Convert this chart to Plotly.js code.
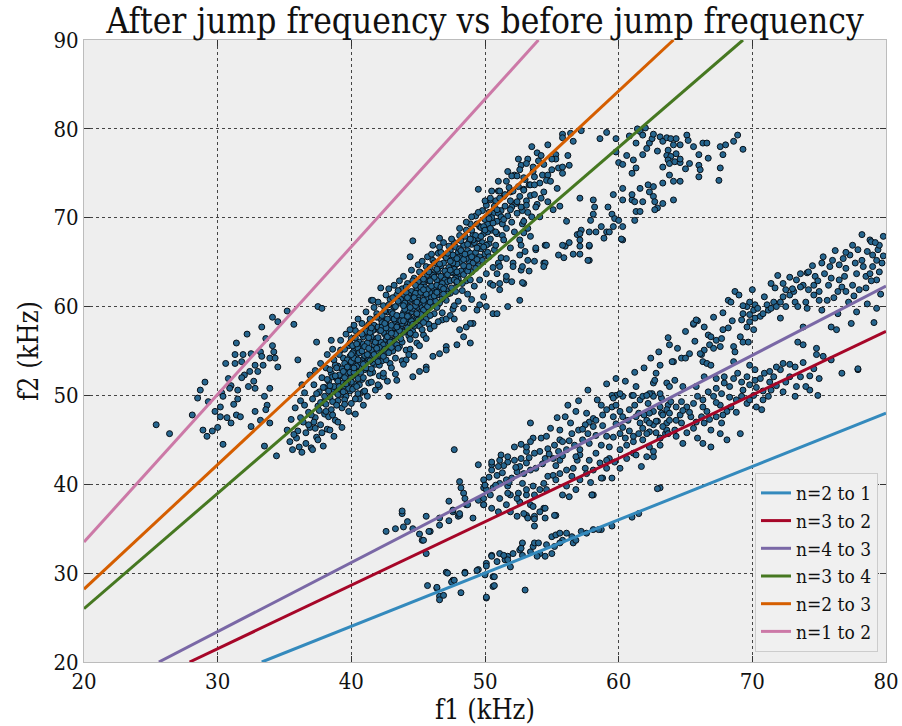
<!DOCTYPE html>
<html><head><meta charset="utf-8">
<script src="https://cdn.plot.ly/plotly-3.0.1.min.js"></script>
<style>html,body{margin:0;padding:0;background:#fff}#chart{width:902px;height:726px}</style>
</head><body><div id="chart"></div><script>
// ---- data: [f1, f2] pairs (kHz) ----
const leftPts = [[25.4,46.7],[26.4,45.7],[28.1,47.8],[29.05,51.5],[28.7,50.6],[28.5,49.7],[29.3,49.3],[30.3,50.3],[30.2,48.7],[30.2,47.6],[28.9,46.1],[29.2,45.4],[29.6,46.0],[30.0,46.4],[30.4,44.5],[30.7,47.5],[31.0,46.9],[31.4,47.8],[31.7,47.6],[31.5,49.6],[30.6,53.6],[31.3,54.6],[31.3,53.6],[31.4,55.9],[31.9,54.6],[31.8,53.8],[32.2,56.9],[32.5,54.7],[33.3,57.7],[33.6,56.4],[34.1,58.8],[34.5,58.3],[35.2,59.5],[35.7,58.0],[34.1,55.6],[34.2,54.9],[33.2,54.9],[33.3,54.4],[32.8,53.4],[32.4,52.7],[32.0,52.3],[31.8,52.0],[31.0,51.1],[30.9,50.8],[31.5,50.6],[32.3,51.0],[32.8,50.8],[33.0,52.7],[32.7,51.6],[33.4,53.4],[33.9,54.2],[34.3,54.2],[34.5,53.2],[33.9,50.8],[33.5,49.9],[33.7,48.9],[33.6,48.4],[32.8,48.2],[33.9,46.9],[33.2,47.2],[32.5,46.5],[33.5,44.3],[34.4,43.2],[30.4,49.9],[37.5,60.0],[37.8,59.8],[36.0,54.0],[30.8,51.9],[31.2,49.0],[29.8,48.2]];

const mainCorePts = [[35.2,46.1],[35.5,47.3],[35.6,43.9],[35.8,48.6],[35.9,45.2],[36.1,44.2],[36.2,49.4],[36.3,43.6],[36.4,47.0],[36.5,50.3],[36.6,45.8],[36.8,48.1],[36.9,46.4],[37.0,44.1],[37.1,49.6],[37.2,51.2],[37.3,47.5],[37.4,45.3],[37.5,48.8],[37.6,50.4],[37.7,46.7],[37.8,52.0],[37.9,49.2],[38.0,47.9],[38.0,50.9],[38.1,53.1],[38.2,46.2],[38.3,51.6],[38.4,49.8],[38.5,48.4],[38.5,52.5],[38.6,50.7],[38.7,54.0],[38.8,47.2],[38.9,51.9],[39.0,49.4],[39.0,53.3],[39.1,50.8],[39.2,55.1],[39.3,52.2],[39.3,48.6],[39.4,54.2],[39.5,51.1],[39.6,53.7],[39.6,49.9],[39.7,52.8],[39.8,55.6],[39.9,50.5],[39.9,54.4],[40.0,52.0],[40.0,56.4],[40.1,53.6],[40.2,51.3],[40.2,55.0],[40.3,57.3],[40.4,52.7],[40.4,54.6],[40.5,50.2],[40.6,56.0],[40.6,53.2],[40.7,55.4],[40.8,58.1],[40.8,51.8],[40.9,54.1],[41.0,56.8],[41.0,52.9],[41.1,55.7],[41.2,53.8],[41.2,57.6],[41.3,51.4],[41.4,55.0],[41.4,58.6],[41.5,54.3],[41.6,56.3],[41.6,52.6],[41.7,57.9],[41.8,55.2],[41.8,53.5],[41.9,59.2],[42.0,56.1],[42.0,54.4],[42.1,57.3],[42.1,52.2],[42.2,58.6],[42.3,55.6],[42.3,53.9],[42.4,60.1],[42.5,56.9],[42.5,54.8],[42.6,58.0],[42.7,55.3],[42.7,59.4],[42.8,57.2],[42.9,53.6],[42.9,60.8],[43.0,56.2],[43.0,58.7],[43.1,55.0],[43.2,59.9],[43.2,57.6],[43.3,54.2],[43.4,61.3],[43.4,56.6],[43.5,58.9],[43.6,55.5],[43.6,60.4],[43.7,57.8],[43.8,62.0],[43.8,56.0],[43.9,59.3],[44.0,57.3],[44.0,61.0],[44.1,55.1],[44.1,58.6],[44.2,62.6],[44.3,60.0],[44.3,56.7],[44.4,58.1],[44.5,61.7],[44.5,59.4],[44.6,57.2],[44.7,63.2],[44.7,60.6],[44.8,58.8],[44.9,55.9],[44.9,62.1],[45.0,59.9],[45.0,61.2],[45.1,57.8],[45.2,63.8],[45.2,60.3],[45.3,58.6],[45.4,62.5],[45.4,56.8],[45.5,61.1],[45.6,59.4],[45.6,64.5],[45.7,60.8],[45.8,62.9],[45.8,58.0],[45.9,61.6],[46.0,63.6],[46.0,60.1],[46.1,65.2],[46.2,62.0],[46.2,59.2],[46.3,63.9],[46.4,61.3],[46.5,66.0],[46.5,62.7],[46.6,60.4],[46.7,64.6],[46.8,61.9],[46.8,58.5],[46.9,63.3],[47.0,65.7],[47.0,62.4],[47.1,60.7],[47.2,64.1],[47.3,66.8],[47.3,63.0],[47.4,61.5],[47.5,65.3],[47.6,63.8],[47.6,59.7],[47.7,67.2],[47.8,64.7],[47.9,62.6],[48.0,66.1],[48.0,63.5],[48.1,68.0],[48.2,65.0],[48.3,61.8],[48.4,66.9],[48.5,64.2],[48.6,68.6],[48.6,62.9],[48.7,66.3],[48.8,65.1],[48.9,69.3],[49.0,67.0],[49.0,63.9],[49.1,68.1],[49.2,65.8],[49.3,70.2],[49.4,67.6],[49.5,64.6],[49.6,69.0],[49.7,66.5],[49.8,70.8],[49.9,68.2],[50.0,65.9],[50.1,71.4],[50.2,69.3],[50.3,67.1],[50.4,72.0],[50.5,68.6],[50.6,70.5],[50.7,66.4],[50.8,71.9],[50.9,69.6],[51.0,73.0],[51.2,70.8],[51.3,68.0],[51.4,72.4],[51.6,74.1],[51.7,70.2],[51.9,72.9],[52.0,69.5],[52.2,74.8],[52.3,71.6],[52.5,73.5],[52.7,75.9],[52.8,70.8],[53.0,74.3],[53.2,76.6],[53.4,72.5],[53.6,75.2],[53.9,77.3],[54.1,73.9],[54.4,76.0],[54.7,78.2],[55.0,75.4],[55.3,77.1],[55.8,79.4],[56.2,77.0],[56.6,78.6],[57.2,79.8],
[37.2,47.0],[37.4,50.2],[37.6,48.3],[37.8,45.8],[37.9,50.9],[38.1,49.0],[38.2,51.8],[38.3,47.6],[38.4,52.9],[38.6,49.3],[38.7,51.0],[38.8,53.4],[38.9,48.9],[39.0,51.6],[39.1,54.6],[39.2,50.1],[39.3,53.0],[39.4,51.4],[39.5,55.2],[39.5,49.5],[39.6,52.4],[39.7,54.0],[39.8,50.8],[39.8,53.1],[39.9,55.9],[40.0,51.5],[40.0,53.8],[40.1,55.6],[40.1,50.7],[40.2,54.2],[40.3,52.3],[40.3,56.5],[40.4,53.3],[40.5,55.3],[40.5,51.9],[40.6,54.8],[40.7,52.6],[40.7,57.0],[40.8,53.9],[40.9,55.8],[40.9,52.0],[41.0,54.5],[41.1,57.2],[41.1,53.1],[41.2,55.9],[41.3,54.0],[41.3,58.0],[41.4,52.5],[41.5,56.6],[41.5,55.1],[41.6,53.7],[41.7,57.4],[41.7,55.7],[41.8,54.1],[41.9,56.4],[41.9,58.8],[42.0,55.0],[42.0,57.7],[42.1,53.4],[42.2,56.0],[42.2,54.6],[42.3,58.2],[42.4,55.7],[42.4,57.1],[42.5,59.5],[42.6,56.3],[42.6,54.0],[42.7,58.6],[42.8,55.8],[42.8,60.2],[42.9,57.5],[43.0,55.4],[43.0,59.4],[43.1,57.0],[43.1,61.0],[43.2,56.1],[43.3,58.3],[43.3,60.0],[43.4,55.7],[43.5,57.9],[43.5,61.8],[43.6,58.5],[43.7,56.4],[43.7,60.8],[43.8,59.0],[43.9,57.1],[43.9,61.4],[44.0,58.2],[44.0,60.4],[44.1,62.2],[44.2,57.6],[44.2,59.6],[44.3,61.3],[44.4,56.3],[44.4,60.7],[44.5,58.4],[44.6,62.9],[44.6,59.8],[44.7,57.8],[44.8,61.5],[44.8,60.1],[44.9,58.6],[45.0,62.8],[45.0,60.7],[45.1,59.3],[45.1,63.9],[45.2,61.6],[45.3,59.9],[45.3,57.4],[45.4,63.1],[45.5,60.3],[45.5,62.2],[45.6,58.6],[45.7,63.6],[45.7,61.9],[45.8,60.4],[45.9,64.4],[45.9,59.0],[46.0,62.3],[46.1,60.8],[46.1,63.5],[46.2,64.9],[46.3,61.6],[46.4,59.9],[46.4,63.0],[46.5,64.0],[46.6,61.9],[46.7,63.4],[46.7,66.1],[46.8,60.9],[46.9,64.9],[47.0,63.0],[47.1,61.8],[47.1,65.5],[47.2,62.8],[47.3,64.4],[47.4,66.3],[47.5,62.1],[47.5,63.9],[47.6,65.8],[47.7,64.2],[47.8,61.7],[47.8,66.7],[47.9,64.8],[48.0,63.1],[48.1,65.6],[48.2,67.4],[48.2,64.0],[48.3,66.0],[48.4,63.6],[48.5,67.9],[48.6,65.4],[48.7,64.0],[48.8,67.3],[48.9,66.0],[49.0,68.6],[49.1,64.9],[49.2,67.2],[49.3,66.1],[49.4,69.3],[49.5,67.7],[49.6,65.6],[49.7,68.9],[49.8,67.2],[50.0,69.8],[50.1,66.9],[50.2,68.4],[50.3,70.6],[50.4,67.6],[50.6,69.4],[50.7,71.3],[50.9,68.2],[51.0,70.5],[51.1,72.2],[51.3,69.3],[51.5,71.3],[51.6,68.8],[51.8,73.4],[52.0,71.2],[52.1,73.0],[52.4,70.5],[52.6,72.4],[52.9,74.5],[53.1,71.9],[53.3,73.7],[53.7,74.6],[54.0,76.4],[54.3,74.8],
[38.0,49.9],[38.3,50.5],[38.6,52.1],[38.9,50.3],[39.1,52.3],[39.4,50.4],[39.5,53.6],[39.7,51.5],[39.9,52.6],[40.1,54.8],[40.2,52.6],[40.4,55.8],[40.6,51.2],[40.7,53.7],[40.9,56.6],[41.0,53.6],[41.2,54.6],[41.3,56.5],[41.5,53.0],[41.6,57.3],[41.8,56.0],[42.0,53.8],[42.1,55.4],[42.3,57.7],[42.5,55.2],[42.6,57.6],[42.8,54.8],[43.0,57.9],[43.1,59.2],[43.3,56.9],[43.5,60.6],[43.6,57.3],[43.8,58.1],[44.0,59.7],[44.1,61.6],[44.3,58.9],[44.5,60.9],[44.6,58.0],[44.8,62.4],[45.0,58.5],[45.2,62.2],[45.4,59.6],[45.6,61.4],[45.8,63.9],[46.0,61.0],[46.2,63.3],[46.4,62.4],[46.6,64.8],[46.8,62.6],[47.0,64.0],[47.2,66.0],[47.4,62.9],[47.6,64.9],[47.9,63.9],[48.1,66.5],[48.4,65.3],[48.7,67.0],[49.0,65.6],[49.3,68.0],[49.6,66.8],[49.9,69.0],[50.2,66.1],[50.5,70.0],[50.8,68.4],[51.2,70.1],[51.5,72.6],[51.9,70.9],[37.0,47.8],[37.3,46.3],[37.7,49.2],[36.8,46.7],[36.5,48.9],[36.2,47.5],[36.0,46.0],[35.7,45.6],[35.4,44.8],
[36.3,51.2],[36.6,44.6],[36.9,52.3],[37.1,43.9],[37.3,52.8],[37.5,45.0],[37.7,53.6],[37.9,44.3],[38.1,48.2],[38.2,54.6],[38.4,46.1],[38.6,55.2],[38.7,45.4],[38.9,53.1],[39.0,47.0],[39.2,56.2],[39.3,46.4],[39.5,52.0],[39.6,56.9],[39.8,48.2],[39.9,57.4],[40.0,49.1],[40.2,57.9],[40.3,47.9],[40.5,58.6],[40.6,49.6],[40.8,56.9],[40.9,50.4],[41.1,59.4],[41.2,49.9],[41.4,57.1],[41.5,51.5],[41.7,59.9],[41.8,50.6],[42.0,60.5],[42.1,51.0],[42.3,59.0],[42.4,52.1],[42.6,61.3],[42.7,51.6],[42.9,56.2],[43.0,53.1],[43.2,62.4],[43.3,52.4],[43.5,55.3],[43.6,62.9],[43.8,53.9],[43.9,63.4],[44.1,54.0],[44.2,61.0],[44.4,55.2],[44.5,64.1],[44.7,54.4],[44.8,56.8],[45.0,64.7],[45.1,55.6],[45.3,65.1],[45.4,58.2],[45.6,56.4],[45.7,65.6],[45.9,57.5],[46.0,65.9],[46.2,57.8],[46.3,60.6],[46.5,58.3],[46.6,66.7],[46.8,59.3],[46.9,67.2],[47.1,58.6],[47.2,61.4],[47.4,59.0],[47.5,67.6],[47.7,60.1],[47.8,63.2],[48.0,60.6],[48.1,68.8],[48.3,62.6],[48.4,59.8],[48.6,69.5],[48.7,61.4],[48.9,63.0],[49.0,70.1],[49.2,62.3],[49.3,64.3],[49.5,70.6],[49.6,63.0],[49.8,65.2],[50.0,71.9],[50.1,63.7],[50.3,65.6],[50.5,73.0],[50.6,64.4],[50.8,66.9],[51.0,74.1],[51.2,65.5],[51.4,67.5],[51.7,75.2],[51.9,66.6],[52.2,68.4],[52.5,76.6],[52.8,69.3],[53.2,70.6],[53.5,78.0],[53.9,71.5],[54.4,72.9],
[38.4,51.1],[38.8,52.2],[39.1,51.0],[39.4,52.7],[39.7,53.2],[40.0,54.6],[40.2,53.1],[40.5,54.0],[40.8,55.0],[41.0,55.5],[41.3,55.3],[41.5,57.6],[41.7,54.6],[42.0,56.5],[42.2,57.3],[42.5,58.1],[42.7,56.6],[43.0,57.0],[43.2,58.6],[43.4,59.0],[43.7,58.4],[43.9,60.1],[44.2,58.9],[44.4,59.9],[44.7,61.0],[44.9,60.5],[45.2,59.1],[45.4,61.9],[45.7,60.0],[45.9,62.9],[46.2,61.2],[46.4,64.2],[46.7,62.2],[46.9,62.0],[47.2,63.6],[47.4,65.1],[47.7,63.0],[47.9,65.4],[48.2,66.3],[48.5,65.9],[48.8,64.5],[49.1,67.5],[49.4,66.6],[49.7,67.9],[50.0,68.6],[50.3,69.9],[39.0,50.1],[39.6,51.3],[40.4,51.0],[40.9,53.5],[41.4,53.9],[41.9,55.3],[42.4,54.4],[42.9,56.0],[43.4,57.7],[43.9,58.4],[44.4,57.0],[44.9,59.2],[45.4,60.7],[45.9,60.5],[46.4,61.6],[46.9,61.4],[47.4,64.1],[47.9,62.8],[48.4,64.6],[48.9,67.6],[49.4,65.3],[49.9,66.7],[50.4,68.8],[50.9,70.9],[51.4,69.8],[51.9,71.9],[52.4,71.8],[52.9,73.2]];

const mainEdgePts = [[44.6,67.4],[46.1,66.9],[44.4,65.6],[42.2,62.1],[42.8,62.0],[41.5,60.7],[37.4,56.0],[38.5,56.2],[49.5,73.2],[50.4,72.2],[46.6,67.7],[41.6,60.7],[49.6,60.2],[50.1,60.0],[50.6,59.2],[49.1,58.1],[48.6,57.7],[48.9,55.9],[48.4,56.6],[47.9,55.7],[47.1,55.5],[46.6,54.7],[46.1,54.4],[45.6,53.2],[45.1,52.7],[42.4,52.5],[42.8,49.9],[43.4,51.7],[44.6,52.1],[45.6,52.9],[47.1,55.1],[48.1,57.4],[48.9,58.1],[49.4,59.6],[50.9,59.2],[51.7,60.0],[52.6,60.7],[52.9,62.6],[51.6,63.0],[51.1,61.9],[49.9,61.1],[50.4,62.6],[50.9,63.7],[51.0,64.9],[52.1,64.9],[52.7,64.1],[53.2,65.2],[53.8,66.4],[54.4,64.9],[54.5,66.9],[53.7,65.1],[52.8,62.7],[51.6,65.4],[51.1,64.5],[51.6,63.4],[50.6,62.4],[51.1,62.6],[52.0,62.8],[53.3,64.0],[52.8,64.5],[52.1,64.5],[39.5,49.0],[40.3,49.6],[41.0,50.5],[38.6,47.8],[43.9,53.5],[44.3,54.6],[40.9,48.9],[42.0,51.2],[47.7,58.6],[49.0,60.8],
[55.8,79.0],[56.4,79.5],[55.3,76.6],[55.5,75.6],[55.8,75.7],[56.3,75.9],[55.8,75.0],[54.2,77.0],[53.1,76.1],[53.6,75.7],[52.6,75.4],[52.0,74.7],[52.4,74.7],[54.7,74.8],[54.6,74.2],[54.9,74.1],[53.4,73.7],[53.7,73.7],[52.9,73.1],[55.4,73.3],[51.1,73.0],[53.7,72.6],[54.2,72.2],[54.7,71.8],[53.8,71.2],[53.1,71.4],[52.7,71.2],[55.6,71.3],[55.1,70.9],[54.1,70.1],[53.5,70.1],[52.9,69.6],[53.2,68.8],[52.9,68.3],[53.4,67.9],[52.6,67.5],[52.7,66.9],[53.8,66.6],[54.6,66.9],[52.6,65.8],[53.0,66.2],[55.0,76.6]];

const tailPts = [[57.1,72.2],[58.1,72.0],[58.2,71.2],[58.1,70.4],[57.9,69.7],[59.2,71.2],[59.5,70.4],[59.7,69.9],[60.0,69.7],[59.6,72.6],[60.3,73.3],[60.3,72.0],[61.0,72.0],[61.2,71.8],[61.3,70.7],[61.6,70.7],[61.2,69.7],[61.8,71.8],[61.0,72.6],[61.6,73.3],[60.3,69.0],[60.3,67.5],[59.6,69.0],[59.1,68.4],[58.9,67.7],[58.7,69.0],[57.8,68.4],[57.2,68.6],[56.9,68.1],[57.1,67.5],[56.1,69.6],[57.1,66.8],[57.8,66.8],[57.8,65.2],[56.6,65.9],[56.0,66.8],[55.5,65.8],[55.8,66.9],[57.1,65.9],[57.7,65.2],[57.8,66.9],[57.1,68.2],[58.3,68.4],[59.3,68.4],[60.2,67.6],[54.5,64.9],[54.4,64.5],[55.9,65.5],[56.3,67.2]];

const topRightPts = [[58.6,78.9],[59.1,79.6],[59.8,78.9],[60.0,76.2],[60.3,76.0],[59.8,77.4],[61.1,76.5],[61.3,75.6],[61.0,75.0],[61.8,77.1],[62.1,77.8],[62.3,78.4],[62.5,78.9],[62.0,80.1],[61.6,79.7],[61.3,78.4],[61.8,79.3],[62.6,79.4],[63.1,79.1],[63.3,78.6],[63.6,79.0],[63.9,78.9],[64.1,78.2],[63.7,77.6],[63.6,77.0],[63.9,76.9],[63.7,76.5],[63.8,76.1],[64.3,77.2],[64.2,76.3],[64.6,76.2],[65.1,79.3],[65.2,78.7],[64.6,78.2],[64.6,76.6],[65.6,78.0],[66.0,77.1],[65.3,76.1],[66.0,75.9],[66.1,75.4],[66.0,74.6],[65.0,75.5],[64.6,74.1],[64.1,74.1],[63.8,74.8],[63.3,75.7],[63.3,73.9],[62.6,73.5],[62.2,73.7],[62.3,72.9],[62.6,72.4],[62.7,71.8],[62.9,71.1],[62.7,70.9],[63.3,71.6],[64.1,72.0],[66.3,78.4],[66.6,78.4],[66.7,76.7],[67.6,78.0],[68.0,78.2],[67.8,77.1],[67.6,75.6],[67.5,74.2],[68.6,78.6],[68.9,79.3],[69.3,77.7],[64.3,78.9],[60.8,79.2],[61.4,80.0],[62.9,77.5],[60.6,77.0]];

const lowerBandPts = [[43.8,36.7],[42.6,34.7],[43.3,35.0],[43.9,35.2],[44.6,35.0],[45.1,34.4],[45.6,36.4],[45.9,34.7],[45.3,33.7],[45.6,32.2],[46.6,35.4],[47.3,35.9],[46.6,36.2],[48.0,36.4],[47.7,43.9],[49.5,42.2],[48.1,40.3],[48.2,39.6],[48.4,39.0],[48.5,38.4],[48.6,37.7],[48.1,36.5],[49.1,36.2],[47.6,36.9],[45.8,34.7],[45.4,33.7],[48.7,37.7],[47.3,38.1],[47.6,37.1],[48.1,36.7],[49.5,38.2],[49.9,37.7],[43.8,37.0],[44.2,35.8],
[49.9,40.5],[49.9,39.6],[49.9,37.7],[50.5,37.3],[51.0,36.9],[51.6,37.7],[51.9,38.8],[51.7,39.8],[52.5,39.0],[52.6,38.0],[53.1,38.8],[53.4,37.7],[53.6,37.5],[53.1,36.5],[53.7,36.4],[53.7,35.3],[54.5,36.2],[54.4,37.3],[55.3,36.5],
[53.4,46.9],[53.6,45.2],[54.2,45.2],[54.6,45.4],[54.9,46.3],[54.7,44.0],[55.2,44.4],[55.6,45.0],[55.8,44.8],[55.5,43.7],[56.1,43.9],[55.6,42.7],[55.1,42.9],[54.5,42.9],[54.1,43.7],[53.7,43.5],[53.1,43.7],[52.7,42.9],[52.2,42.7],[51.7,42.5],[51.4,42.1],[51.0,42.0],[50.5,42.2],[50.5,41.6],[51.1,42.7],[52.6,42.0],[53.1,42.4],[53.4,41.6],[52.9,41.2],[52.4,41.4],[52.0,40.7],[51.6,40.5],[51.1,40.1],[50.6,39.6],[50.1,39.4],[50.0,39.9],[49.9,38.4],[50.4,38.8],[51.1,38.4],[51.7,39.0],[52.4,38.4],[53.1,39.4],[53.6,39.8],[53.7,38.8],[54.1,39.4],[54.4,40.1],[54.7,40.9],[55.1,41.0],[55.6,41.2],[55.3,40.5],[54.6,39.4],[54.5,37.3],[55.2,36.5],[53.7,36.1],[54.1,36.9],[53.2,36.2],[52.9,36.7],[52.4,36.4],[51.9,36.9],
[56.9,42.7],[57.1,43.3],[57.1,43.9],[56.7,44.4],[57.3,45.0],[57.7,45.7],[58.1,46.5],[57.8,47.0],[57.5,46.7],[57.0,46.1],[56.5,45.7],[56.4,46.9],[56.0,47.6],[55.6,46.1],[56.8,48.2],[57.6,48.0],[58.1,47.4],[58.3,47.2],[58.8,47.8],[59.1,48.4],[58.7,48.9],[59.5,48.7],[59.8,48.9],[60.1,48.2],[60.3,47.6],[60.7,47.2],[60.8,48.4],[61.2,48.9],[61.6,49.5],[61.5,48.0],[61.6,46.9],[62.1,47.2],[62.3,45.9],[62.6,46.7],[62.9,47.1],[63.2,48.0],[63.1,44.4],[61.7,42.0],[61.1,44.8],[60.6,44.4],[60.1,43.9],[59.3,42.9],[59.5,40.7],[58.8,40.7],[58.0,38.8],[60.1,41.8],[61.1,43.5],[58.7,44.4],[58.3,43.5],[57.8,42.7],[57.5,41.8],[59.1,41.8],[59.6,47.6],[59.8,50.0],[60.3,49.9],[61.0,50.0],[59.5,50.0],[61.3,51.0],[62.5,50.2],[62.6,51.4],[62.6,49.9],[63.2,49.7],[63.7,48.9],[63.6,46.9],[63.5,45.7],[62.6,43.1],[63.1,39.6],
[59.1,45.4],[59.6,45.3],[60.1,45.7],[60.5,45.2],[61.1,45.4],[61.5,45.7],[61.8,45.0],[62.3,44.2],[62.6,43.7],[62.1,43.1],[61.3,43.3],[60.6,42.9],[59.7,42.5],[59.1,42.7],[58.6,42.4],[58.1,41.6],[58.7,40.7],[63.1,45.2],[63.6,46.1],[58.1,38.8],[56.1,41.6],[56.6,41.8],[56.5,40.9],[57.1,40.5],[57.6,41.2],[56.8,39.4],[56.1,39.8],[55.8,38.8],[57.9,40.2],[56.3,38.6],[53.4,44.8],[53.1,44.2],[52.2,44.2],[51.7,43.1],[51.2,43.3],[52.7,44.5],[50.5,42.5],[50.9,41.0],
[68.2,60.7],[68.4,60.5],[68.7,61.7],[65.9,58.4],[65.6,58.0],[66.7,56.8],[66.9,56.6],[63.8,55.7],[65.3,54.7],[64.7,54.2],[64.1,53.8],[63.1,53.4],[62.8,52.5],[62.7,51.7],[63.6,51.4],[63.8,51.0],[66.2,54.6],[66.4,55.1],[66.8,55.7],[67.3,56.2],[67.7,56.4],[67.6,55.5],[66.3,53.8],[66.6,53.6],[66.9,53.4],[67.8,57.4],[68.2,57.6],[68.6,55.5],[68.7,54.9],[69.1,56.6],[69.3,56.0],[69.7,56.0],[69.6,57.7],[70.1,57.4],[69.8,58.3],[70.2,58.7],[69.8,59.1],[69.2,58.5],[69.3,59.2],[69.6,60.0],[70.1,59.6],[70.2,60.2],[70.4,59.8],[70.6,58.9],[70.8,59.2],[71.1,60.2],[71.2,59.6],[71.4,59.8],[71.6,60.5],[71.8,60.0],[72.1,60.5],[71.4,62.6],[71.7,62.1],[72.3,62.6],[72.5,61.9],[72.3,61.1],[72.8,61.3],[73.1,61.7],[73.2,60.5],[73.3,63.0],[73.6,63.7],[74.1,63.8],[73.8,62.4],[74.2,61.9],[74.6,62.4],[74.6,61.3],[74.0,60.5],[74.1,59.8],[75.0,61.7],[75.2,59.6],[75.6,60.7],[75.7,62.4],[75.9,63.2],[75.8,64.5],[76.0,65.2],[76.5,64.7],[76.8,65.4],[77.0,64.3],[76.9,63.4],[76.5,63.0],[76.7,62.2],[77.0,61.7],[76.4,61.7],[77.2,60.5],[77.5,62.4],[77.8,63.7],[77.3,65.8],[77.5,66.9],[77.9,66.4],[78.2,65.2],[78.3,64.5],[78.5,63.4],[78.8,63.7],[79.0,64.5],[79.3,65.2],[79.4,66.4],[79.5,66.9],[78.8,67.5],[78.2,68.1],[79.3,63.0],[78.5,62.1],[78.0,61.9],[79.3,59.8],[79.0,65.8],[79.7,64.9],[75.2,64.9],[74.7,63.4],[75.4,63.7],[75.0,60.7],[73.4,60.0],[72.5,60.0],[79.8,67.9],[78.9,67.3],
[72.1,58.7],[73.8,57.7],[73.4,56.0],[73.8,55.7],[74.8,55.3],[75.3,54.4],[75.9,57.7],[76.3,57.4],[76.4,59.2],[77.4,58.1],[76.7,52.5],[77.9,52.9],[75.9,54.0],[74.6,53.0],[75.0,51.9],[74.3,50.6],[74.9,50.0],[74.0,51.0],[73.6,52.1],[73.2,53.2],[72.8,52.1],[73.2,49.9],[72.5,51.5],[72.1,52.9],[72.3,53.6],[71.8,53.2],[71.6,52.1],[71.3,51.5],[71.4,50.6],[70.9,52.5],[70.6,51.9],[70.2,52.9],[70.2,51.7],[69.8,51.2],[69.6,52.1],[69.2,51.5],[68.9,52.5],[68.6,51.9],[68.3,51.0],[67.9,51.4],[67.7,50.2],[67.3,50.8],[67.1,49.9],[66.7,50.4],[66.3,49.5],[65.9,49.9],[65.6,49.1],[65.1,48.7],[64.7,49.3],[64.3,48.7],[63.9,49.3],[63.6,48.4],[63.1,48.7],[62.6,48.2],[62.2,49.1],[61.9,47.8],[62.3,46.9],[62.8,47.1],[63.3,46.5],[63.8,47.2],[64.2,46.1],[64.7,46.9],[65.1,45.8],[65.6,46.3],[65.9,45.2],[66.4,46.9],[66.9,46.1],[67.3,47.6],[67.7,46.9],[68.1,48.2],[68.4,48.7],[68.8,49.5],[69.2,49.9],[69.6,49.1],[70.1,50.0],[70.3,48.7],[70.7,48.4],[70.8,49.5],[71.2,49.9],[67.6,48.9],[66.6,48.2],[66.2,47.6],[65.4,47.6],[64.6,47.8],[68.1,45.0],[69.1,45.7],[67.6,45.7],[66.9,44.2],[66.3,44.6],[64.8,44.6],[64.3,45.4],[63.7,45.7],[63.1,45.2],[62.1,45.7],[69.8,53.4],[68.6,53.8],[67.9,52.1],[67.3,51.9],[66.4,52.1],[65.8,51.0],[64.8,51.0],[64.2,51.7],[63.1,50.2],[62.3,50.2],[61.8,49.9],
[65.6,58.1],[65.8,58.5],[69.3,60.1],[69.8,60.5],[74.2,63.9],[67.1,55.3],[66.1,54.7],[65.0,54.2],[64.0,53.8],[60.1,50.2],[59.6,49.7],[61.1,50.0],[62.1,50.0],[77.9,53.0],[78.6,60.3],[79.6,61.4],[77.8,59.4],[79.1,58.2],
[50.3,40.8],[50.8,39.9],[51.3,41.3],[51.8,40.2],[52.3,41.9],[52.8,40.1],[53.3,43.0],[53.8,41.8],[54.3,42.3],[54.8,43.4],[55.3,42.1],[55.8,43.2],[56.3,44.9],[56.8,43.1],[57.3,46.2],[57.8,44.6],[58.3,45.5],[58.8,46.6],[59.3,44.2],[59.8,46.8],[60.3,46.4],[60.8,46.0],[61.3,47.6],[61.8,46.3],[62.3,48.0],[62.8,45.8],[63.3,47.8],[63.8,48.0],[64.3,47.2],[64.8,48.3],[65.3,48.1],[65.8,47.0],[66.3,48.7],[66.8,47.3],[67.3,49.2],[67.8,47.8],[68.3,49.8],[68.8,48.1],[69.3,50.6],[69.8,49.5],[70.3,50.9],[70.8,50.5],[71.3,52.7],[71.8,51.1],[72.3,50.4],[72.8,53.5],[73.3,51.0],[73.8,53.7],[74.3,52.2],[74.8,54.6],
[55.4,47.5],[56.2,48.9],[57.0,49.4],[57.7,50.6],[58.4,49.5],[59.1,51.3],[59.8,51.9],[60.5,51.6],[61.2,52.6],[61.9,53.1],[62.4,54.2],[63.0,54.9],[63.7,56.5],[64.4,55.3],[65.0,57.2],[65.7,56.1],[66.4,57.7],[67.1,58.8],[67.8,59.3],[68.5,58.4],[69.0,61.3],[70.0,61.9],[70.9,61.1],[71.9,63.5],[72.8,63.3],[73.6,62.2],[74.5,64.6],[75.3,65.6],[76.2,66.3],[77.0,66.1],[77.7,64.9],[78.6,66.2],[79.2,67.2],[79.8,65.7],[76.1,61.0],[77.6,61.2],[78.9,62.9],[79.5,63.9],[74.9,62.9],[73.0,62.0]];

const blueLinePts = [[50.5,32.0],[51.1,32.2],[50.9,31.3],[50.1,31.1],[49.5,30.4],[50.0,29.8],[50.6,29.6],[50.1,27.2],[48.5,30.1],[47.1,30.1],[47.6,29.2],[46.4,28.3],[46.6,27.4],[45.7,28.6],[48.2,27.8],[50.6,28.5],[53.0,28.1],[51.5,31.5],[51.7,31.9],[52.1,32.2],[52.6,32.6],[52.8,32.0],[53.4,32.4],[53.6,33.0],[53.7,33.4],[54.0,33.4],[54.1,32.2],[54.5,31.9],[54.6,33.2],[55.0,34.1],[55.3,34.3],[55.6,34.5],[56.1,34.5],[56.5,34.1],[56.6,33.4],[56.8,33.7],[57.2,34.7],[57.6,34.5],[58.1,34.9],[58.7,34.9],[55.8,33.7],[55.6,33.4],[55.2,33.0],[55.0,32.2],[53.9,31.9],[52.8,33.4],[46.4,28.4],[46.6,27.0],[46.9,27.5],[47.2,30.0],[47.5,29.0],[47.7,29.2],[48.5,30.0],[49.4,30.3],[50.1,27.3],[50.7,28.6],[50.7,29.6],[50.1,30.8],[50.5,31.9],[51.4,32.0],[51.7,31.5],[51.9,30.7],[52.7,32.8],[58.0,38.8],[62.9,39.5],[61.0,36.3],[61.5,36.7],[58.5,34.9],[59.5,35.3]];

// theory lines: endpoints
const lineNames = ['n=2 to 1','n=3 to 2','n=4 to 3','n=3 to 4','n=2 to 3','n=1 to 2'];
const lineF1 = [[33.3,80],[27.9,80],[25.6,80],[20,69.3],[20,64.1],[20,54.0]];
const lineF2 = [[20,48.0],[20,57.2],[20,62.3],[26.0,90],[28.2,90],[33.5,90]];
const xTicks = [20,30,40,50,60,70,80];
const yTicks = [20,30,40,50,60,70,80,90];

// ---- styles ----
const lineColors = ['#348ABD','#A60628','#7A68A6','#467821','#D55E00','#CC79A7'];
const FONT = '"DejaVu Serif Condensed", "DejaVu Serif", serif';

const allPts = [].concat(leftPts, mainCorePts, mainEdgePts, tailPts, topRightPts, lowerBandPts, blueLinePts);
const traces = [{
  type:'scatter', mode:'markers',
  x: allPts.map(p=>p[0]), y: allPts.map(p=>p[1]),
  marker:{size:6, color:'#26668f', line:{color:'#081018', width:1}},
  showlegend:false, hoverinfo:'skip'
}];
lineNames.forEach((n,i)=>traces.push({
  type:'scatter', mode:'lines', name:n, x:lineF1[i], y:lineF2[i],
  line:{color:lineColors[i], width:3}
}));

const axisCommon = {
  showgrid:true, gridcolor:'#444', griddash:'dot', gridwidth:1,
  showline:true, linecolor:'#bcbcbc', linewidth:1, mirror:'ticks',
  ticks:'inside', ticklen:6, tickcolor:'#333', tickwidth:1,
  zeroline:false, tickfont:{family:FONT, size:22, color:'#111'}
};
const layout = {
  width:902, height:726,
  margin:{l:84, r:16, t:40, b:64},
  paper_bgcolor:'#ffffff', plot_bgcolor:'#eeeeee',
  font:{family:FONT, color:'#111'},
  title:{text:'After jump frequency vs before jump frequency', font:{family:FONT, size:35, color:'#111'},
         xref:'paper', x:0.5, xanchor:'center', yref:'container', y:0.972, yanchor:'middle'},
  xaxis:Object.assign({}, axisCommon, {range:[20,80], tickvals:xTicks,
         title:{text:'f1 (kHz)', font:{family:FONT, size:27, color:'#111'}, standoff:2}}),
  yaxis:Object.assign({}, axisCommon, {range:[20,90], tickvals:yTicks,
         title:{text:'f2 (kHz)', font:{family:FONT, size:27, color:'#111'}, standoff:6}}),
  legend:{x:0.99, xanchor:'right', y:0.016, yanchor:'bottom', bgcolor:'#f0f0f0',
          bordercolor:'#cccccc', borderwidth:1, itemwidth:30, font:{family:FONT, size:19, color:'#111'}},
  showlegend:true
};
Plotly.newPlot('chart', traces, layout, {displayModeBar:false, staticPlot:true});
</script></body></html>
